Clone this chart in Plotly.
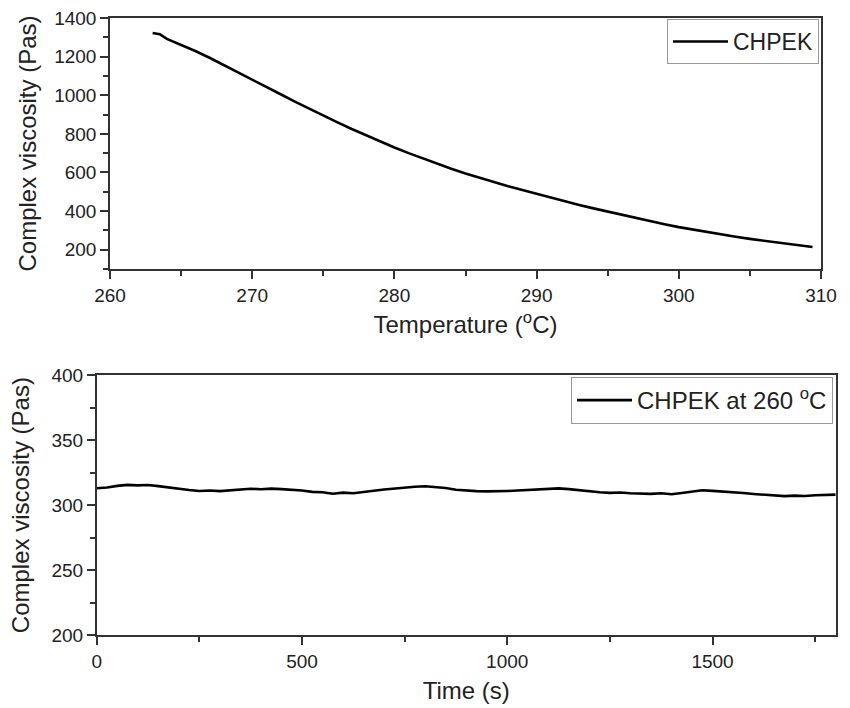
import plotly.graph_objects as go

# Top panel: complex viscosity vs temperature
temp_c = [263.0, 263.5, 264, 265, 266, 267, 268, 269, 270, 271, 272, 273, 274, 275,
          276, 277, 278, 279, 280, 281, 282, 283, 284, 285, 286, 287, 288, 289, 290,
          291, 292, 293, 294, 295, 296, 297, 298, 299, 300, 301, 302, 303, 304, 305,
          306, 307, 308, 309, 309.4]
visc_temp = [1322, 1316, 1292, 1262, 1229, 1194, 1157, 1119, 1081, 1043, 1005, 967, 930, 894,
             859, 825, 792, 760, 729, 700, 672, 645, 619, 595, 572, 550, 529, 509, 489,
             470, 451, 432, 414, 397, 380, 363, 347, 332, 317, 304, 291, 279, 267, 256,
             246, 236, 226, 217, 214]

# Bottom panel: complex viscosity vs time at 260 C
time_s = [0, 25, 50, 75, 100, 125, 150, 175, 200, 225, 250, 275, 300, 325, 350, 375,
          400, 425, 450, 475, 500, 525, 550, 575, 600, 625, 650, 675, 700, 725, 750,
          775, 800, 825, 850, 875, 900, 925, 950, 975, 1000, 1025, 1050, 1075, 1100,
          1125, 1150, 1175, 1200, 1225, 1250, 1275, 1300, 1325, 1350, 1375, 1400,
          1425, 1450, 1475, 1500, 1525, 1550, 1575, 1600, 1625, 1650, 1675, 1700,
          1725, 1750, 1775, 1800]
visc_time = [313.0, 313.6, 314.8, 315.6, 315.2, 315.5, 314.6, 313.5, 312.2, 311.6, 310.9,
             311.2, 310.8, 311.5, 311.9, 312.6, 312.2, 312.7, 312.3, 311.8, 311.3, 310.2,
             309.9, 308.8, 309.6, 309.2, 310.4, 311.1, 312.0, 312.8, 313.6, 314.1, 314.5,
             313.7, 313.2, 311.8, 311.1, 310.8, 310.6, 311.0, 310.9, 311.2, 311.5, 312.1,
             312.6, 312.9, 312.3, 311.4, 310.3, 309.9, 309.4, 309.7, 309.2, 309.0, 308.7,
             309.1, 308.4, 309.3, 310.5, 311.4, 311.0, 310.6, 309.8, 309.3, 308.6, 308.1,
             307.2, 306.9, 307.3, 307.0, 307.6, 307.9, 308.1]

FONT = "Liberation Sans, Arial, sans-serif"
TXT = "#222222"
AX = "#333333"

fig = go.Figure()
fig.add_trace(go.Scatter(x=temp_c, y=visc_temp, mode="lines", name="CHPEK",
                         line=dict(color="black", width=2.6), xaxis="x", yaxis="y",
                         legend="legend"))
fig.add_trace(go.Scatter(x=time_s, y=visc_time, mode="lines",
                         name="CHPEK at 260 <sup>o</sup>C",
                         line=dict(color="black", width=2.6), xaxis="x2", yaxis="y2",
                         legend="legend2"))

W, H = 850, 708
def xd(a, b):
    return [a / W, b / W]
def yd(top, bottom):
    return [1 - bottom / H, 1 - top / H]

axis_common = dict(showline=True, linecolor=AX, linewidth=1.5, mirror=True,
                   ticks="outside", tickcolor=AX, tickwidth=1.5, ticklen=8,
                   showgrid=False, zeroline=False, automargin=False,
                   tickfont=dict(family=FONT, size=19, color=TXT),
                   title_font=dict(family=FONT, size=24, color=TXT))

minor_common = dict(ticks="outside", ticklen=5, tickcolor=AX, tickwidth=1.5)

fig.update_layout(
    width=W, height=H, margin=dict(l=0, r=0, t=0, b=0, autoexpand=False),
    paper_bgcolor="white", plot_bgcolor="white", showlegend=True,
    xaxis=dict(domain=xd(110, 821), range=[260, 310], tickvals=[260, 270, 280, 290, 300, 310],
               minor=dict(dtick=5, tick0=0, **minor_common),
               title=dict(text="Temperature (<sup>o</sup>C)", standoff=12),
               anchor="y", **axis_common),
    yaxis=dict(domain=yd(18, 269), range=[100, 1400], tickvals=[200, 400, 600, 800, 1000, 1200, 1400],
               minor=dict(dtick=100, tick0=0, **minor_common),
               title=dict(text="Complex viscosity (Pas)", standoff=11),
               anchor="x", **axis_common),
    xaxis2=dict(domain=xd(96.7, 835.7), range=[0, 1800], tickvals=[0, 500, 1000, 1500],
                minor=dict(dtick=250, tick0=0, **minor_common),
                title=dict(text="Time (s)", standoff=11),
                anchor="y2", **axis_common),
    yaxis2=dict(domain=yd(375, 635.3), range=[200, 400], tickvals=[200, 250, 300, 350, 400],
                minor=dict(dtick=25, tick0=0, **minor_common),
                title=dict(text="Complex viscosity (Pas)", standoff=15),
                anchor="x2", **axis_common),
    legend=dict(x=819 / W, y=1 - 19 / H, xanchor="right", yanchor="top",
                bordercolor="#999999", borderwidth=1, bgcolor="white",
                font=dict(family=FONT, size=23, color=TXT),
                itemwidth=55),
    legend2=dict(x=833 / W, y=1 - 377 / H, xanchor="right", yanchor="top",
                 bordercolor="#999999", borderwidth=1, bgcolor="white",
                 font=dict(family=FONT, size=24, color=TXT),
                 itemwidth=55),
)

fig.write_html("out.html", config={"displayModeBar": False},
               post_script="document.body.style.margin='0px';document.body.style.overflow='hidden';")
